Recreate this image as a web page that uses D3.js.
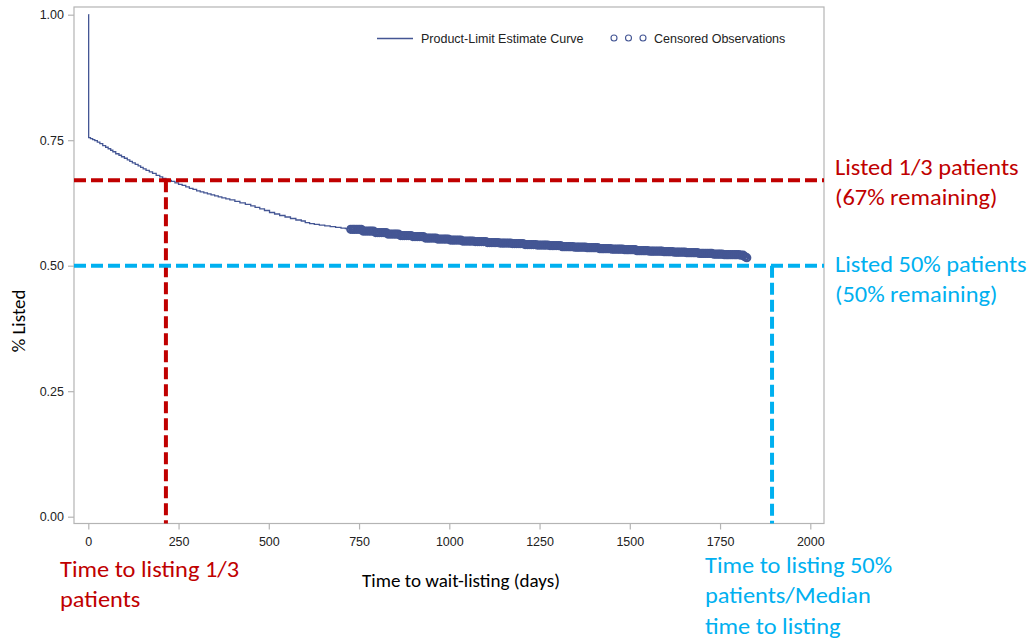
<!DOCTYPE html>
<html>
<head>
<meta charset="utf-8">
<script src="https://cdn.jsdelivr.net/npm/d3@7"></script>
<style>
  body { margin: 0; background: #fff; }
  svg { display: block; }
</style>
</head>
<body>
<svg id="chart" width="1032" height="639"></svg>
<script>
// Kaplan-Meier product-limit estimate: event days and survival ("still unlisted") fraction
const kmDays = [0, 1, 6, 12, 18, 25, 32, 40, 48, 55, 62, 68, 76, 85, 92, 100, 108, 115, 122, 130, 138,
  145, 152, 160, 169, 178, 188, 198, 206, 215, 222, 230, 240, 250, 260, 270, 280, 290, 300, 310, 320,
  330, 340, 350, 360, 370, 381, 392, 406, 420, 435, 450, 462, 475, 488, 502, 516, 530, 545, 560, 575,
  590, 601, 613, 626, 640, 655, 670, 685, 700, 712, 724, 760, 794, 828,
  863, 897, 932, 966, 1001, 1035, 1070, 1105, 1140, 1174, 1209, 1244, 1278, 1313, 1347, 1382, 1416,
  1450, 1486, 1520, 1555, 1590, 1624, 1658, 1693, 1728, 1762, 1803, 1815, 1822];
const kmSurv = [1.000, 0.755, 0.753, 0.751, 0.749, 0.746, 0.743, 0.739, 0.736, 0.733, 0.730, 0.727, 0.723,
  0.720, 0.717, 0.714, 0.711, 0.708, 0.705, 0.702, 0.699, 0.696, 0.693, 0.690, 0.687, 0.684, 0.680,
  0.677, 0.674, 0.672, 0.670, 0.668, 0.665, 0.662, 0.660, 0.657, 0.654, 0.652, 0.649, 0.647, 0.645,
  0.643, 0.641, 0.639, 0.637, 0.635, 0.633, 0.631, 0.628, 0.625, 0.622, 0.619, 0.616, 0.613, 0.610,
  0.606, 0.603, 0.600, 0.597, 0.594, 0.591, 0.589, 0.586, 0.584, 0.5825, 0.581, 0.5795, 0.578, 0.5765,
  0.575, 0.574, 0.5725, 0.569, 0.566, 0.563, 0.560,
  0.558, 0.555, 0.553, 0.551, 0.549, 0.548, 0.546, 0.545, 0.544, 0.542, 0.541, 0.540, 0.538, 0.537,
  0.536, 0.534, 0.533, 0.532, 0.530, 0.529, 0.528, 0.527, 0.526, 0.5245, 0.523, 0.522, 0.521, 0.518, 0.516];

// Days on which patients were censored
const censorDays = [727, 733, 738, 744, 750, 756, 761, 767, 773, 779, 784, 790, 796, 802, 807, 813, 819,
  825, 830, 836, 842, 848, 853, 859, 865, 871, 876, 882, 888, 894, 899, 905, 911, 917, 922, 928, 934,
  940, 945, 951, 957, 963, 968, 974, 980, 986, 991, 997, 1003, 1009, 1014, 1020, 1026, 1032, 1037,
  1043, 1049, 1055, 1060, 1066, 1072, 1078, 1083, 1089, 1095, 1101, 1106, 1112, 1118, 1124, 1129,
  1135, 1141, 1147, 1152, 1158, 1164, 1170, 1175, 1181, 1187, 1193, 1198, 1204, 1210, 1216, 1221,
  1227, 1233, 1239, 1244, 1250, 1256, 1262, 1267, 1273, 1279, 1285, 1290, 1296, 1302, 1308, 1313,
  1319, 1325, 1331, 1336, 1342, 1348, 1354, 1359, 1365, 1371, 1377, 1382, 1388, 1394, 1400, 1405,
  1411, 1417, 1423, 1428, 1434, 1440, 1446, 1451, 1457, 1463, 1469, 1474, 1480, 1486, 1492, 1497,
  1503, 1509, 1515, 1520, 1526, 1532, 1538, 1543, 1549, 1555, 1561, 1566, 1572, 1578, 1584, 1589,
  1595, 1601, 1607, 1612, 1618, 1624, 1630, 1635, 1641, 1647, 1653, 1658, 1664, 1670, 1676, 1681,
  1687, 1693, 1699, 1704, 1710, 1716, 1722, 1727, 1733, 1739, 1745, 1750, 1756, 1762, 1768, 1773,
  1779, 1785, 1791, 1796, 1802, 1808, 1814, 1819, 1824];

const xTicks = [0, 250, 500, 750, 1000, 1250, 1500, 1750, 2000];
const yTicks = [0, 0.25, 0.5, 0.75, 1.0];

// Reference markers
const oneThirdLevel = 0.67, oneThirdDay = 215;
const medianLevel = 0.50, medianDay = 1894;

const legendLabels = ["Product-Limit Estimate Curve", "Censored Observations"];
const xTitle = "Time to wait-listing (days)";
const yTitle = "% Listed";
const oneThirdLevelNote = ["Listed 1/3 patients", "(67% remaining)"];
const medianLevelNote = ["Listed 50% patients", "(50% remaining)"];
const oneThirdDayNote = ["Time to listing 1/3", "patients"];
const medianDayNote = ["Time to listing 50%", "patients/Median", "time to listing"];

// ---- layout ----
const frame = { left: 74, top: 7, right: 824, bottom: 523.5 };
const RED = "#c00000", BLUE = "#00b0f0", CURVE = "#445694";
const AXIS_FONT = "'Liberation Sans', Arial, sans-serif";
const NOTE_FONT = "Carlito, 'Open Sans', sans-serif";
const NOTE_STRETCH = 1.11;   // slide text is set slightly wide

const svg = d3.select("#chart");
svg.append("rect").attr("width", 1032).attr("height", 639).attr("fill", "#fff");

const x = d3.scaleLinear().domain([0, 2000]).range([88.3, 810.3]);
const y = d3.scaleLinear().domain([0, 1]).range([516.7, 14.7]);

// plot frame
svg.append("rect")
  .attr("x", frame.left).attr("y", frame.top)
  .attr("width", frame.right - frame.left).attr("height", frame.bottom - frame.top)
  .attr("fill", "none").attr("stroke", "#b4b4b4").attr("stroke-width", 1.2);

// axes
const xAxis = svg.append("g")
  .attr("transform", `translate(0,${frame.bottom})`)
  .call(d3.axisBottom(x).tickValues(xTicks).tickSize(6).tickPadding(8).tickSizeOuter(0).tickFormat(d3.format("d")));
const yAxis = svg.append("g")
  .attr("transform", `translate(${frame.left},0)`)
  .call(d3.axisLeft(y).tickValues(yTicks).tickSize(6).tickPadding(4).tickSizeOuter(0).tickFormat(d3.format(".2f")));
[xAxis, yAxis].forEach(g => {
  g.select(".domain").remove();
  g.selectAll(".tick line").attr("stroke", "#b4b4b4").attr("stroke-width", 1.2);
  g.selectAll(".tick text").attr("fill", "#222").style("font-family", AXIS_FONT).style("font-size", "12.5px");
});

// axis titles
svg.append("text")
  .attr("transform", "translate(461,586.5) scale(1.06,1)").attr("text-anchor", "middle")
  .style("font-family", NOTE_FONT).style("font-size", "18px").attr("fill", "#000")
  .text(xTitle);
svg.append("text")
  .attr("transform", "translate(25,321) rotate(-90) scale(1.05,1)").attr("text-anchor", "middle")
  .style("font-family", NOTE_FONT).style("font-size", "18px").attr("fill", "#000")
  .text(yTitle);

// KM step curve
const km = kmDays.map((d, i) => ({ day: d, s: kmSurv[i] }));
svg.append("path")
  .datum(km)
  .attr("fill", "none").attr("stroke", CURVE).attr("stroke-width", 1.3)
  .attr("d", d3.line().x(d => x(d.day)).y(d => y(d.s)).curve(d3.curveStepAfter));

// censored observations sit on the step curve
const bis = d3.bisector(d => d.day).right;
const survAt = t => km[Math.max(0, bis(km, t) - 1)].s;
svg.append("g").selectAll("circle")
  .data(censorDays)
  .join("circle")
  .attr("cx", d => x(d)).attr("cy", d => y(survAt(d)))
  .attr("r", 3.4).attr("fill", "none").attr("stroke", CURVE).attr("stroke-width", 2.4);

// reference dashed lines
const dash = "12,5";
function refLines(level, day, color) {
  svg.append("line")
    .attr("x1", frame.left).attr("x2", frame.right).attr("y1", y(level)).attr("y2", y(level))
    .attr("stroke", color).attr("stroke-width", 4).attr("stroke-dasharray", dash);
  svg.append("line")
    .attr("x1", x(day)).attr("x2", x(day)).attr("y1", y(level)).attr("y2", frame.bottom)
    .attr("stroke", color).attr("stroke-width", 4).attr("stroke-dasharray", dash);
}
refLines(oneThirdLevel, oneThirdDay, RED);
refLines(medianLevel, medianDay, BLUE);

// legend
const lg = svg.append("g");
lg.append("line").attr("x1", 377).attr("x2", 413).attr("y1", 38.5).attr("y2", 38.5)
  .attr("stroke", CURVE).attr("stroke-width", 1.3);
lg.append("text").attr("x", 421).attr("y", 43).text(legendLabels[0]);
lg.selectAll("circle").data([614, 628.5, 643]).join("circle")
  .attr("cx", d => d).attr("cy", 38).attr("r", 3)
  .attr("fill", "none").attr("stroke", CURVE).attr("stroke-width", 1.1);
lg.append("text").attr("x", 654).attr("y", 43).text(legendLabels[1]);
lg.selectAll("text").style("font-family", AXIS_FONT).style("font-size", "12.5px").attr("fill", "#222");

// annotations
function note(lines, x0, y0, lh, color) {
  const t = svg.append("text")
    .attr("transform", `translate(${x0},${y0}) scale(${NOTE_STRETCH},1)`)
    .style("font-family", NOTE_FONT).style("font-size", "22px").attr("fill", color);
  lines.forEach((s, i) => t.append("tspan").attr("x", 0).attr("y", i * lh).text(s));
}
note(oneThirdLevelNote, 835, 175, 30, RED);
note(medianLevelNote, 835, 272, 30, BLUE);
note(oneThirdDayNote, 60, 577, 30, RED);
note(medianDayNote, 705, 573, 30.5, BLUE);
</script>
</body>
</html>
